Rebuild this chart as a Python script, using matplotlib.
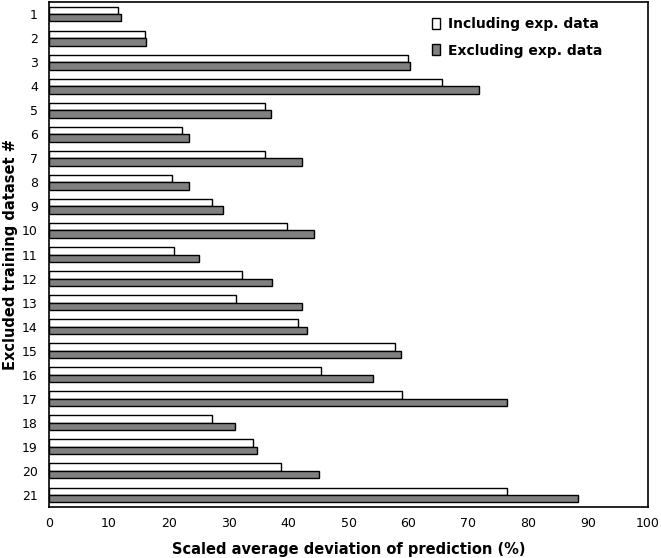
import numpy as np
import matplotlib
matplotlib.use("Agg")
import matplotlib.pyplot as plt
from matplotlib.patches import Patch

# data
DATASETS = [str(i) for i in range(1, 22)]
INCLUDING = [11.5, 16.0, 60.0, 65.6, 36.1, 22.2, 36.1, 20.5, 27.2, 39.8, 20.8,
             32.3, 31.3, 41.5, 57.8, 45.4, 58.9, 27.2, 34.0, 38.7, 76.4]
EXCLUDING = [12.0, 16.2, 60.2, 71.8, 37.0, 23.3, 42.2, 23.4, 29.1, 44.3, 25.0,
             37.2, 42.2, 43.0, 58.7, 54.1, 76.4, 31.0, 34.8, 45.0, 88.3]
X_TICKS = list(range(0, 101, 10))

# style
INCL_COLOR = "white"
EXCL_COLOR = "#808080"
BAR_H = 0.31

fig = plt.figure(figsize=(6.61, 5.58), dpi=100)
ax = fig.add_axes([49 / 661, 1 - 507 / 558, 599 / 661, 505 / 558])

y = np.arange(len(DATASETS))
ax.barh(y - BAR_H / 2, INCLUDING, height=BAR_H, color=INCL_COLOR, edgecolor="black", linewidth=1)
ax.barh(y + BAR_H / 2, EXCLUDING, height=BAR_H, color=EXCL_COLOR, edgecolor="black", linewidth=1)

ax.set_xlim(0, 100)
ax.set_ylim(len(DATASETS) - 0.5, -0.5)
ax.set_xticks(X_TICKS)
ax.set_yticks(y)
ax.set_yticklabels(DATASETS)
ax.tick_params(length=0, labelsize=9, pad=8)
ax.tick_params(axis="x", pad=7)
for s in ax.spines.values():
    s.set_linewidth(1.2)

ax.set_xlabel("Scaled average deviation of prediction (%)", fontsize=10.5, fontweight="bold", labelpad=9)
ax.set_ylabel("Excluded training dataset #", fontsize=10.5, fontweight="bold", labelpad=3)

handles = [Patch(facecolor=INCL_COLOR, edgecolor="black", label="Including exp. data"),
           Patch(facecolor=EXCL_COLOR, edgecolor="black", label="Excluding exp. data")]
leg = ax.legend(handles=handles, loc="upper right", bbox_to_anchor=(0.945, 0.995), frameon=False,
                handlelength=0.6, handleheight=0.8, handletextpad=0.6, labelspacing=0.9,
                prop={"weight": "bold", "size": 10})

fig.savefig("out.png", dpi=100)
